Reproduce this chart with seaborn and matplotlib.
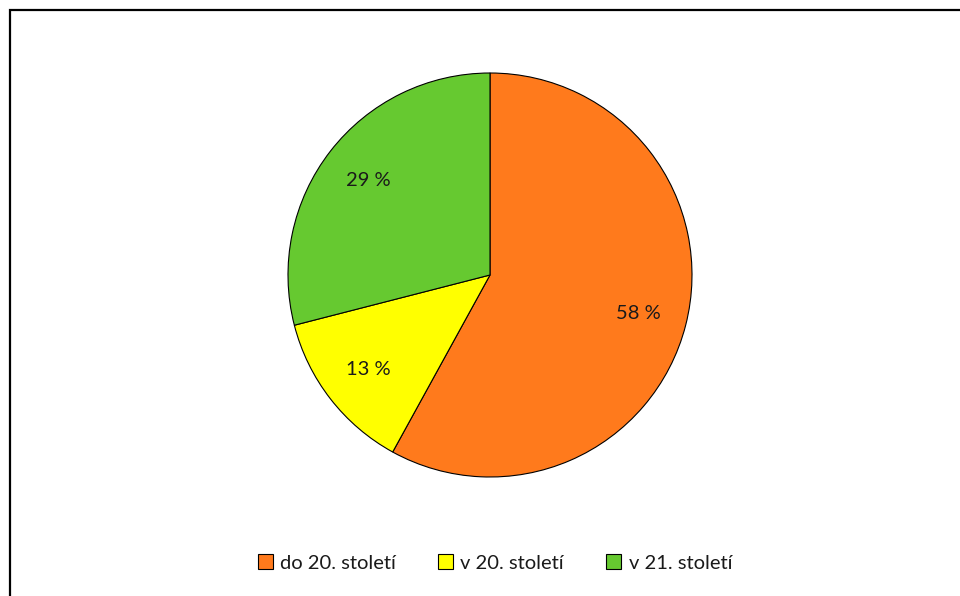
import matplotlib.pyplot as plt
import seaborn as sns
from matplotlib.patches import Rectangle

# Data
categories = ['do 20. století', 'v 20. století', 'v 21. století']
shares = [58, 13, 29]
colors = ['#FF7A1C', '#FFFF00', '#66C930']

sns.set_theme(style='white')
plt.rcParams['font.family'] = ['Lato', 'DejaVu Sans']

fig = plt.figure(figsize=(9.6, 5.96), dpi=100)

# Outer frame (cut off at right and bottom in the source)
fig.patches.append(Rectangle((10 / 960, -0.05), 1.2, (586 / 596) + 0.05,
                             transform=fig.transFigure, fill=False,
                             edgecolor='black', linewidth=1.6))

# Pie axes: centre (490, 275), radius ~202 px
r = 202
ax = fig.add_axes([(490 - r) / 960, (596 - 275 - r) / 596, 2 * r / 960, 2 * r / 596])
wedges, texts, autotexts = ax.pie(
    shares, colors=colors, startangle=90, counterclock=False,
    autopct=lambda p: f'{p:.0f} %', pctdistance=0.76,
    wedgeprops=dict(edgecolor='black', linewidth=0.8),
    textprops=dict(fontsize=14.5, color='#1a1a1a'))
ax.set_xlim(-1, 1)
ax.set_ylim(-1, 1)
ax.axis('off')

fig.legend(wedges, categories, loc='center', bbox_to_anchor=(495 / 960, 33 / 596),
           ncol=3, frameon=False, fontsize=14.5, handlelength=0.75, handleheight=0.75,
           handletextpad=0.35, columnspacing=2.1, labelcolor='#1a1a1a')

plt.savefig('out.png', dpi=100)
plt.close()
